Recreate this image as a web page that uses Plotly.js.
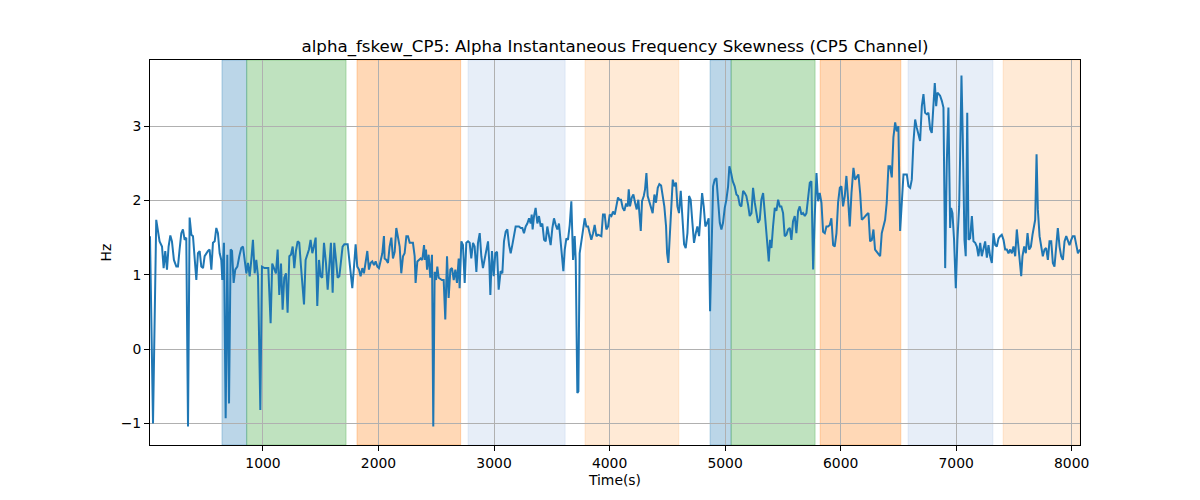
<!DOCTYPE html>
<html>
<head>
<meta charset="utf-8">
<script src="https://cdn.plot.ly/plotly-3.0.1.min.js"></script>
<style>html,body{margin:0;padding:0;background:#fff;}#chart{width:1200px;height:500px;}</style>
</head>
<body>
<div id="chart"></div>
<script>
const timeSec = [22,48,76,105,126,140,154,169,183,198,212,229,250,264,278,293,307,322,336,351,365,380,394,408,423,437,452,466,481,495,509,524,538,553,567,582,596,610,625,639,648,662,677,691,706,720,732,746,760,778,795,812,827,841,856,870,885,899,913,928,942,957,977,991,1014,
1046,1066,1080,1098,1112,1127,1141,1156,1170,1184,1199,1213,1228,1242,1257,1271,1285,1300,1314,1329,1343,1355,1369,1384,1398,1412,1427,1441,1456,1470,1485,1499,1513,1528,1545,1560,1574,1588,1603,1617,1632,1646,1661,1675,1689,1704,1733,1747,1762,1773,1788,1802,1816,1831,1845,1860,1874,1889,1903,1917,1932,1946,1961,1975,1990,2004,2018,2033,2047,
2053,2068,2082,2096,2111,2125,2140,2154,2169,2183,2197,2212,2226,2241,2255,2270,2298,2313,2321,2336,2350,2365,2379,2394,2402,2411,2420,2434,2448,2463,2474,2486,2498,2509,2521,2549,2564,2578,2593,2607,2622,2636,2651,2665,2679,2694,2702,2717,2731,2746,2760,2775,2789,2803,2818,2832,2847,2861,2876,2890,2904,2919,2933,2948,2959,2968,2982,2997,3011,3026,3040,
3057,3072,3086,3101,3115,3130,3144,3158,3173,3187,3216,3231,3245,3259,3274,3288,3303,3317,3326,3334,3346,3360,3375,3389,3404,3418,3433,3447,3461,3476,3490,3505,3519,3534,3548,3562,3577,3591,3600,3612,3626,3640,3655,3669,3684,3698,3707,3721,3730,3741,3756,3770,3785,3799,3814,3828,3842,3857,3871,3886,3900,3929,3943,3958,3972,3987,4001,4016,4030,4045,4059,4073,
4085,4099,4114,4128,4143,4157,4166,4177,4192,4206,4221,4235,4249,4258,4270,4281,4296,4307,4319,4330,4345,4359,4373,4388,4402,4417,4431,4446,4460,4474,4489,4498,4509,4524,4535,4547,4561,4575,4587,4601,4616,4630,4645,4659,4674,4688,4702,4717,4731,4746,4760,4775,4789,4801,4815,4829,4844,4858,4870,4881,4896,4910,4925,4939,4954,4968,4982,4997,5011,5026,5037,5052,5066,
5083,5098,5112,5127,5141,5156,5170,5184,5199,5213,5228,5242,5257,5271,5285,5300,5314,5329,5343,5352,5363,5378,5389,5401,5415,5430,5444,5459,5473,5487,5502,5516,5531,5545,5560,5574,5588,5603,5617,5632,5646,5661,5675,5690,5704,5718,5733,5747,5762,5776,5791,5805,5819,5834,5848,5863,5877,5891,5906,5920,5935,5949,5964,5978,5993,6007,6021,6036,6050,6065,6079,6094,
6111,6125,6140,6154,6169,6183,6197,6212,6226,6241,6255,6270,6284,6298,6327,6342,6356,6371,6385,6399,6414,6428,6443,6457,6472,6486,6500,6515,6529,6544,6573,6587,6602,6616,6630,6645,6659,6674,6688,6703,6717,6731,6746,6760,6775,6789,6804,6815,6827,6838,6850,6861,6876,6890,6905,6919,6933,6948,6956,6968,6982,6997,7011,7026,7034,7046,7057,7072,7083,7096,7107,
7121,7136,7150,7165,7179,7193,7208,7222,7237,7251,7266,7280,7294,7309,7323,7338,7352,7367,7381,7395,7410,7424,7439,7453,7468,7482,7496,7511,7525,7540,7554,7563,7574,7589,7603,7618,7632,7647,7661,7675,7684,7696,7707,7722,7736,7750,7765,7779,7794,7808,7823,7837,7851,7866,7880,7895,7909,7924,7938,7953,7967,7981,7996,8010,8025,8039,8054,8072];

const skewHz = [1.52,-1.00,1.74,1.45,1.38,1.09,1.32,1.07,1.38,1.53,1.45,1.20,1.11,1.11,1.34,1.56,1.61,1.47,1.50,-1.04,1.77,1.54,1.52,1.20,0.93,1.29,1.32,1.11,1.09,1.25,1.29,1.32,1.34,1.07,1.43,1.45,1.63,1.56,1.29,1.20,0.93,1.43,-0.93,1.27,-0.73,1.34,1.32,0.89,1.07,1.11,1.25,1.36,1.38,1.20,1.02,1.16,0.98,1.20,1.47,1.02,1.20,0.98,-0.82,1.11,1.09,
1.09,0.35,1.15,1.07,1.02,1.34,0.73,1.15,0.53,0.96,1.02,0.49,1.25,1.27,1.38,1.09,1.32,1.45,1.43,1.11,0.80,0.60,1.20,1.29,1.34,1.47,1.29,1.38,1.50,0.58,1.20,0.98,0.96,1.43,1.16,0.80,1.20,1.43,0.76,1.43,1.20,0.96,0.98,1.20,1.38,1.41,1.41,1.20,0.93,0.82,1.11,1.41,1.11,1.07,0.98,1.09,1.02,1.18,1.32,1.07,1.16,1.18,1.13,1.18,1.11,1.09,1.18,1.29,1.52,
1.22,1.20,1.16,1.38,1.50,1.22,1.31,1.63,1.47,1.38,1.02,1.25,1.29,1.52,1.52,1.43,1.43,1.25,0.89,1.18,1.20,1.22,1.20,1.40,1.20,1.34,1.07,1.27,0.96,1.27,-1.04,1.04,0.93,1.11,0.96,0.93,0.93,0.40,1.25,0.69,1.07,1.09,0.93,1.07,0.89,1.22,0.82,1.45,1.40,0.89,1.43,1.45,1.43,1.22,1.43,1.38,1.04,1.43,1.56,1.25,1.09,1.20,1.34,1.45,1.16,0.73,1.32,0.98,1.29,1.31,0.80,
1.05,1.02,1.45,1.58,1.61,1.40,1.29,1.40,1.56,1.65,1.65,1.63,1.63,1.56,1.65,1.69,1.76,1.69,1.81,1.61,1.79,1.90,1.69,1.79,1.65,1.69,1.47,1.45,1.65,1.54,1.40,1.63,1.76,1.67,1.61,1.69,1.40,1.25,1.05,1.34,1.49,1.47,1.67,1.99,1.20,1.52,1.20,-0.59,-0.57,1.29,1.43,1.56,1.76,1.65,1.65,1.56,1.47,1.56,1.67,1.52,1.54,1.52,1.81,1.81,1.61,1.65,1.81,1.79,1.85,1.81,1.92,2.04,
2.01,2.01,1.90,1.86,1.96,1.92,2.15,1.92,2.04,2.08,1.97,1.88,2.01,1.86,1.59,1.99,2.06,2.15,2.37,2.06,1.99,1.92,1.83,2.08,1.97,2.17,2.22,2.20,2.04,1.92,1.65,1.29,1.16,1.65,2.01,2.28,2.19,2.24,1.92,1.83,2.13,1.79,1.41,1.36,1.56,2.06,2.01,1.70,1.43,1.56,1.65,1.52,1.83,2.10,1.92,1.65,1.70,1.76,0.51,1.25,2.19,2.28,2.30,2.01,1.70,1.61,1.70,1.90,2.01,2.19,2.46,2.37,2.26,
2.19,2.08,2.06,1.94,1.92,2.13,2.10,2.06,1.94,1.79,1.83,2.17,1.97,1.83,1.70,1.74,2.01,2.10,1.83,1.63,1.41,1.18,1.47,1.36,1.65,1.90,1.86,2.01,1.92,1.92,1.83,1.52,1.54,1.61,1.63,1.47,1.72,1.79,1.56,1.86,1.92,1.81,1.83,1.79,1.83,2.06,2.24,2.26,1.07,1.79,2.37,1.99,2.10,1.97,1.58,1.56,1.65,1.65,1.67,1.76,1.40,1.38,1.56,1.97,2.17,2.19,1.92,2.06,2.33,2.01,1.65,2.10,
2.44,2.28,2.31,2.35,2.10,1.74,1.76,1.79,1.81,1.83,1.45,1.47,1.61,1.34,1.27,1.25,1.56,1.67,1.74,1.97,2.46,2.46,2.31,2.85,3.05,2.93,3.00,1.59,2.01,2.35,2.35,2.19,2.17,2.28,2.78,3.09,2.98,2.87,2.80,3.27,3.43,3.18,3.16,3.18,2.96,2.91,3.32,3.58,3.27,3.45,3.43,3.41,3.34,3.25,1.09,2.51,3.25,1.63,1.90,1.83,1.47,0.82,1.47,1.92,2.55,3.68,2.87,1.47,1.25,3.18,1.47,
1.49,1.79,1.45,1.43,1.38,1.25,1.43,1.25,1.38,1.45,1.23,1.40,1.25,1.16,1.56,1.40,1.38,1.49,1.52,1.54,1.47,1.34,1.34,1.29,1.34,1.29,1.38,1.25,1.61,1.34,1.20,0.98,1.25,1.38,1.29,1.56,1.34,1.38,1.54,1.70,1.74,2.62,1.88,1.52,1.38,1.25,1.34,1.36,1.20,1.45,1.45,1.16,1.11,1.38,1.63,1.38,1.25,1.20,1.45,1.52,1.45,1.40,1.47,1.52,1.52,1.38,1.29,1.34];

const bandStart = [645, 859, 1814, 2775, 3788, 4870, 5052, 5823, 6584, 7407];
const bandEnd   = [859, 1719, 2711, 3615, 4599, 5052, 5779, 6521, 7318, 8072];
const bandKind  = ['blue','green','orange','lightblue','lightorange','blue','green','orange','lightblue','lightorange'];

const xTicks = [1000,2000,3000,4000,5000,6000,7000,8000];
const yTicks = [-1,0,1,2,3];

const bandColors = {
  blue: 'rgba(31,119,180,0.3)',
  green: 'rgba(44,160,44,0.3)',
  orange: 'rgba(255,127,14,0.3)',
  lightblue: 'rgba(174,199,232,0.3)',
  lightorange: 'rgba(255,187,120,0.3)'
};

const shapes = bandStart.map((s, i) => ({
  type: 'rect', xref: 'x', yref: 'paper', x0: s, x1: bandEnd[i], y0: 0, y1: 1,
  fillcolor: bandColors[bandKind[i]], line: {width: 1, color: bandColors[bandKind[i]]}, layer: 'below'
}));

const font = {family: 'DejaVu Sans, sans-serif', size: 13.9, color: '#000'};

Plotly.newPlot('chart', [{
  x: timeSec, y: skewHz, type: 'scatter', mode: 'lines',
  line: {color: '#1f77b4', width: 2}, hoverinfo: 'skip'
}], {
  width: 1200, height: 500,
  margin: {l: 150, r: 120, t: 60, b: 55},
  paper_bgcolor: '#fff', plot_bgcolor: 'rgba(0,0,0,0)',
  font: font,
  showlegend: false,
  title: {text: 'alpha_fskew_CP5: Alpha Instantaneous Frequency Skewness (CP5 Channel)',
          font: {family: 'DejaVu Sans, sans-serif', size: 16.67, color: '#000'},
          xref: 'paper', x: 0.5, xanchor: 'center', y: 0.908, yanchor: 'middle'},
  shapes: shapes,
  xaxis: {
    range: [22, 8072], tickvals: xTicks, ticktext: xTicks.map(String),
    showgrid: true, gridcolor: '#b0b0b0', gridwidth: 1, zeroline: false,
    showline: true, linecolor: '#000', linewidth: 1, mirror: true,
    ticks: 'outside', ticklen: 5, tickcolor: '#000',
    title: {text: 'Time(s)', font: font, standoff: 5},
    tickfont: font, layer: 'above traces'
  },
  yaxis: {
    range: [-1.29, 3.89], tickvals: yTicks, ticktext: yTicks.map(v => v < 0 ? '\u22121' : String(v)),
    showgrid: true, gridcolor: '#b0b0b0', gridwidth: 1, zeroline: false,
    showline: true, linecolor: '#000', linewidth: 1, mirror: true,
    ticks: 'outside', ticklen: 5, tickcolor: '#000',
    title: {text: 'Hz', font: font, standoff: 5},
    tickfont: font, layer: 'above traces'
  }
}, {staticPlot: true});
</script>
</body>
</html>
